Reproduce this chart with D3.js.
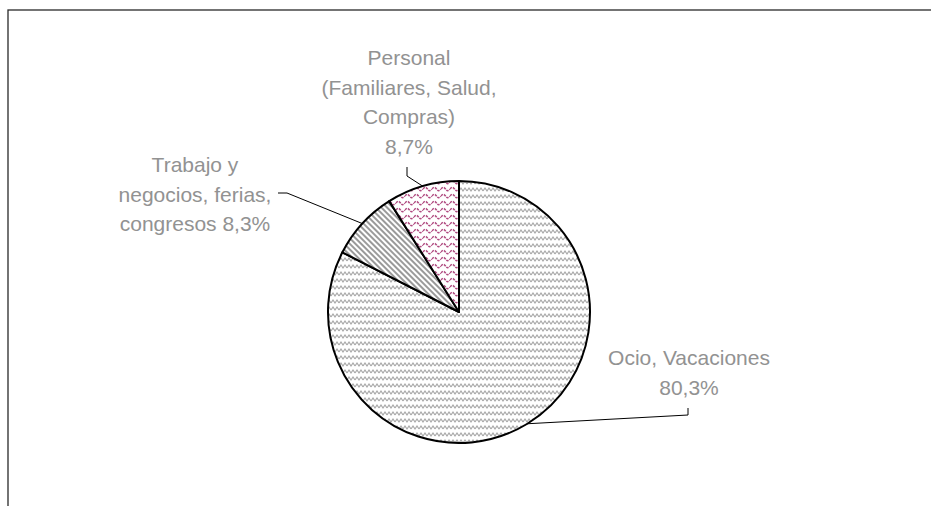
<!DOCTYPE html>
<html>
<head>
<meta charset="utf-8">
<script src="https://cdn.jsdelivr.net/npm/d3@7"></script>
<style>
  body { margin: 0; background: #fff; }
  text { font-family: "Liberation Sans", Arial, sans-serif; }
</style>
</head>
<body>
<div id="chart"></div>
<script>
// Data
var categories = ["Ocio, Vacaciones", "Trabajo y negocios, ferias, congresos", "Personal (Familiares, Salud, Compras)"];
var values = [80.3, 8.3, 8.7];
var labelLines = [
  ["Ocio, Vacaciones", "80,3%"],
  ["Trabajo y", "negocios, ferias,", "congresos 8,3%"],
  ["Personal", "(Familiares, Salud,", "Compras)", "8,7%"]
];
var patterns = ["wave-grey", "stripe-grey", "wave-pink"];

var svgWidth = 931;
var svgHeight = 506;
var cx = 459, cy = 312, radius = 131;

// label layout: text anchor point (centre x, first baseline) and leader elbow
var labelLayout = [
  { x: 689, y: 365, elbow: [688, 415], end: [688, 408] },
  { x: 195, y: 172, elbow: [287, 193], end: [278, 193] },
  { x: 409, y: 65, elbow: [407, 176], end: [407, 167] }
];
var lineHeight = 29.5;

var svg = d3.select("#chart")
  .append("svg")
  .attr("width", svgWidth)
  .attr("height", svgHeight);

var defs = svg.append("defs");

// grey wavy pattern
var p1 = defs.append("pattern")
  .attr("id", "wave-grey")
  .attr("patternUnits", "userSpaceOnUse")
  .attr("width", 8).attr("height", 7);
p1.append("rect").attr("width", 8).attr("height", 7).attr("fill", "#fff");
p1.append("path")
  .attr("d", "M0,5 C1,2 1.5,2 2,2 C2.5,2 3,2 4,5 C5,2 5.5,2 6,2 C6.5,2 7,2 8,5")
  .attr("d", "M0,5 L2,2 L4,5 L6,2 L8,5")
  .attr("fill", "none")
  .attr("stroke", "#a8a8a8")
  .attr("stroke-width", 1.2);

// grey diagonal stripes
var p2 = defs.append("pattern")
  .attr("id", "stripe-grey")
  .attr("patternUnits", "userSpaceOnUse")
  .attr("width", 4).attr("height", 4)
  .attr("patternTransform", "rotate(45)");
p2.append("rect").attr("width", 4).attr("height", 4).attr("fill", "#fff");
p2.append("line")
  .attr("x1", 0).attr("x2", 4).attr("y1", 1).attr("y2", 1)
  .attr("stroke", "#9a9a9a")
  .attr("stroke-width", 2);

// pink dashed waves
var p3 = defs.append("pattern")
  .attr("id", "wave-pink")
  .attr("patternUnits", "userSpaceOnUse")
  .attr("width", 9).attr("height", 7);
p3.append("rect").attr("width", 9).attr("height", 7).attr("fill", "#fff");
p3.append("path")
  .attr("d", "M0,4.5 C1.5,1 3,1 4.5,4.5 C6,6.5 7.5,6.5 9,4.5")
  .attr("d", "M0,3 C1.5,0.8 3,0.8 4.5,3 C6,5.2 7.5,5.2 9,3")
  .attr("fill", "none")
  .attr("stroke", "#b04a80")
  .attr("stroke-width", 1.5)
  .attr("stroke-dasharray", "2.5,1");

// frame
svg.append("rect")
  .attr("x", 8).attr("y", 10)
  .attr("width", 960).attr("height", 560)
  .attr("fill", "none")
  .attr("stroke", "#2a2a2a")
  .attr("stroke-width", 1.3);

var pie = d3.pie().sort(null).value(d => d);
var arcs = pie(values);

var arc = d3.arc().innerRadius(0).outerRadius(radius);

var chartGroup = svg.append("g")
  .attr("transform", `translate(${cx}, ${cy})`);

chartGroup.selectAll("path.slice")
  .data(arcs)
  .enter()
  .append("path")
  .attr("class", "slice")
  .attr("d", arc)
  .attr("fill", (d, i) => `url(#${patterns[i]})`)
  .attr("stroke", "#000")
  .attr("stroke-width", 2)
  .attr("stroke-linejoin", "round");

// leader lines: from the arc edge at mid-angle to the elbow, then to the label
svg.selectAll("polyline.leader")
  .data(arcs)
  .enter()
  .append("polyline")
  .attr("class", "leader")
  .attr("points", function(d, i) {
    var a = (d.startAngle + d.endAngle) / 2;
    var px = cx + radius * Math.sin(a);
    var py = cy - radius * Math.cos(a);
    var L = labelLayout[i];
    return [[px, py], L.elbow, L.end].map(p => p.join(",")).join(" ");
  })
  .attr("fill", "none")
  .attr("stroke", "#000")
  .attr("stroke-width", 1);

// labels
var labels = svg.selectAll("text.label")
  .data(arcs)
  .enter()
  .append("text")
  .attr("class", "label")
  .attr("text-anchor", "middle")
  .style("font-size", "21px")
  .style("fill", "#929292");

labels.each(function(d, i) {
  var L = labelLayout[i];
  d3.select(this).selectAll("tspan")
    .data(labelLines[i])
    .enter()
    .append("tspan")
    .attr("x", L.x)
    .attr("y", (t, j) => L.y + j * lineHeight)
    .text(t => t);
});
</script>
</body>
</html>
